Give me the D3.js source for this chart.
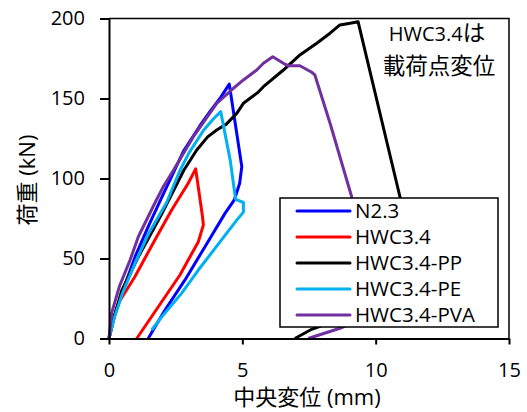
<!DOCTYPE html>
<html lang="ja">
<head>
<meta charset="UTF-8">
<title>荷重-中央変位</title>
<script src="https://d3js.org/d3.v7.min.js"></script>
<style>
  body { margin: 0; background: #fff; }
  text { font-family: "Open Sans", "Noto Sans CJK JP", sans-serif; fill: #000; }
  .cjk { font-family: "Noto Sans CJK JP", sans-serif; }
</style>
</head>
<body>
<script>
// 系列名
const seriesNames = ["N2.3", "HWC3.4", "HWC3.4-PP", "HWC3.4-PE", "HWC3.4-PVA"];
const lineColors = ["#0000ff", "#ff0000", "#000000", "#00b0f0", "#7030a0"];

// [中央変位 (mm), 荷重 (kN)]
const n23 = [[0,0],[0.2,14],[0.5,29],[1.0,52],[1.5,71],[2.0,89],[2.4,103],[2.79,117],[3.41,133],
  [3.79,142],[4.2,151],[4.51,159],[4.98,107.4],[4.9,97],[4.7,86.6],[4.35,78.2],[3.6,57.4],
  [2.85,36.6],[2.1,17.8],[1.47,0]];
const hwc34 = [[0,0],[0.1,9],[0.35,22],[0.97,38.6],[1.72,61.6],[2.35,80.3],[2.97,97],[3.25,106],
  [3.5,77],[3.54,71],[3.35,60.5],[2.66,39.7],[1.04,0]];
const hwc34pp = [[0,0],[0.2,14],[0.48,30],[1.1,51],[1.98,78],[2.8,105],[3.29,117.8],[3.7,126],
  [4.04,130.3],[4.4,134],[4.79,140.7],[5.04,147],[5.6,154],[5.79,157.4],[6.54,167.8],[7.16,177.2],
  [7.79,184.5],[8.29,190.8],[8.66,196],[9.04,197],[9.34,198],[10.91,88.6],[11.3,60],[8.3,10],
  [7.6,5.75],[6.97,0]];
const hwc34pe = [[0,0],[0.2,13],[0.5,28],[1.0,48],[1.5,66],[2.16,85],[2.66,105],[3.0,116],
  [3.54,130],[3.9,137],[4.19,141.8],[4.55,111],[4.68,95],[4.75,87],[5.04,85],[5.04,79],[4.79,74],
  [4.22,61.6],[3.35,42.8],[2.72,28.2],[1.98,13.6],[1.6,5.3]];
const hwc34pva = [[0,0],[0.1,16],[0.4,33],[0.79,49],[1.1,63.6],[1.72,84.7],[2.04,95],[2.41,105],
  [3.16,126],[4.04,147],[4.59,155.3],[5.04,161.6],[5.54,167.8],[5.79,172],[6.14,176.1],[6.54,172],
  [6.72,170.5],[7.16,170.5],[7.6,166.4],[7.72,164.7],[8.29,134.5],[9.1,88.6],[9.5,60],[8.9,8],
  [8.66,6.4],[7.47,0]];
const seriesData = [n23, hwc34, hwc34pp, hwc34pe, hwc34pva];

const xTicks = [0, 5, 10, 15];
const yTicks = [0, 50, 100, 150, 200];

const width = 527, height = 412;
const plotLeft = 109, plotRight = 509, plotTop = 18.5, plotBottom = 338.5;

const svg = d3.select("body").append("svg")
  .attr("width", width)
  .attr("height", height);

const x = d3.scaleLinear().domain([0, 15]).range([plotLeft, plotRight]);
const y = d3.scaleLinear().domain([0, 200]).range([plotBottom, plotTop]);

// 枠線（上・右）
svg.append("path")
  .attr("d", `M${plotLeft},${plotTop}H${plotRight}V${plotBottom}`)
  .attr("fill", "none")
  .attr("stroke", "#000")
  .attr("stroke-width", 1.5);

// 曲線
const line = d3.line().x(d => x(d[0])).y(d => y(d[1]));
svg.selectAll(".series")
  .data(seriesData)
  .enter().append("path")
  .attr("class", "series")
  .attr("d", line)
  .attr("fill", "none")
  .attr("stroke", (d, i) => lineColors[i])
  .attr("stroke-width", 3)
  .attr("stroke-linejoin", "round");

// 軸
const xAxis = svg.append("g")
  .attr("transform", `translate(0,${plotBottom})`)
  .call(d3.axisBottom(x).tickValues(xTicks).tickSize(6).tickPadding(18).tickSizeOuter(0));
const yAxis = svg.append("g")
  .attr("transform", `translate(${plotLeft},0)`)
  .call(d3.axisLeft(y).tickValues(yTicks).tickSize(9).tickPadding(15).tickSizeOuter(0));

[xAxis, yAxis].forEach(g => {
  g.select(".domain").attr("stroke", "#000").attr("stroke-width", 2);
  g.selectAll(".tick line").attr("stroke", "#000").attr("stroke-width", 2);
  g.selectAll(".tick text").style("font-size", "20px").attr("fill", "#000");
});

// 軸ラベル
svg.append("text")
  .attr("x", 307)
  .attr("y", 405)
  .attr("text-anchor", "middle")
  .style("font-size", "22px")
  .text("中央変位 (mm)");

svg.append("text")
  .attr("transform", "translate(35,180) rotate(-90)")
  .attr("text-anchor", "middle")
  .style("font-size", "22px")
  .text("荷重 (kN)");

// 注記
const note1 = svg.append("text")
  .attr("x", 437)
  .attr("y", 40.5)
  .attr("text-anchor", "middle")
  .style("font-size", "20px");
note1.append("tspan").text("HWC3.4");
note1.append("tspan").attr("class", "cjk").style("font-size", "22.5px").text("は");

svg.append("text")
  .attr("class", "cjk")
  .attr("x", 439)
  .attr("y", 73.5)
  .attr("text-anchor", "middle")
  .style("font-size", "22.5px")
  .text("載荷点変位");

// 凡例
const legend = svg.append("g");
legend.append("rect")
  .attr("x", 280).attr("y", 198)
  .attr("width", 218).attr("height", 129)
  .attr("fill", "#fff")
  .attr("stroke", "#000")
  .attr("stroke-width", 1.5);

const item = legend.selectAll(".item")
  .data(seriesNames)
  .enter().append("g")
  .attr("class", "item")
  .attr("transform", (d, i) => `translate(0,${211 + i * 26})`);

item.append("line")
  .attr("x1", 297).attr("x2", 350)
  .attr("stroke", (d, i) => lineColors[i])
  .attr("stroke-width", 3)
  .attr("stroke-linecap", "round");

item.append("text")
  .attr("x", 355)
  .attr("y", 7)
  .style("font-size", "20.5px")
  .text(d => d);
</script>
</body>
</html>
